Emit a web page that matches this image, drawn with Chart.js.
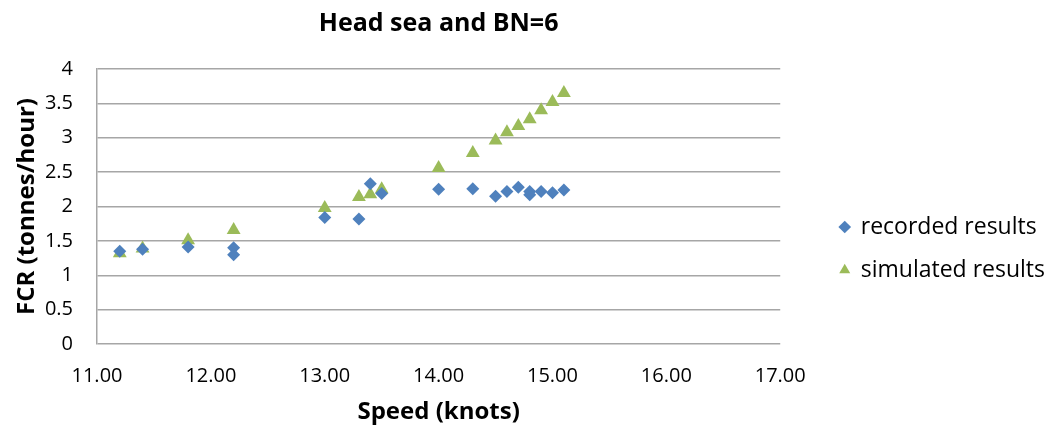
<!DOCTYPE html>
<html>
<head>
<meta charset="utf-8">
<script src="https://cdn.jsdelivr.net/npm/chart.js@4.4.1/dist/chart.umd.min.js"></script>
<style>
  html, body { margin: 0; padding: 0; background: #fff; }
  #wrap { width: 1063px; height: 432px; }
</style>
</head>
<body>
<div id="wrap"><canvas id="c" width="1063" height="432"></canvas></div>
<script>
const chartTitle = 'Head sea and BN=6';
const xTitle = 'Speed (knots)';
const yTitle = 'FCR (tonnes/hour)';
const seriesNames = ['recorded results', 'simulated results'];

const recordedSpeed = [11.2, 11.4, 11.8, 12.2, 12.2, 13.0, 13.3, 13.4, 13.5, 14.0, 14.3, 14.5, 14.6, 14.7, 14.8, 14.8, 14.9, 15.0, 15.1];
const recordedFCR   = [1.35, 1.38, 1.41, 1.40, 1.30, 1.84, 1.82, 2.33, 2.19, 2.25, 2.26, 2.15, 2.22, 2.28, 2.22, 2.17, 2.22, 2.20, 2.24];

const simulatedSpeed = [11.2, 11.4, 11.8, 12.2, 13.0, 13.3, 13.4, 13.5, 14.0, 14.3, 14.5, 14.6, 14.7, 14.8, 14.9, 15.0, 15.1];
const simulatedFCR   = [1.32, 1.39, 1.51, 1.66, 1.98, 2.14, 2.18, 2.25, 2.56, 2.78, 2.96, 3.08, 3.17, 3.27, 3.40, 3.52, 3.65];

const xMin = 11, xMax = 17, xStep = 1;
const yMin = 0, yMax = 4, yStep = 0.5;

function toPoints(xs, ys) { return xs.map((x, i) => ({ x: x, y: ys[i] })); }

const FONT = '"Open Sans", "DejaVu Sans", sans-serif';

new Chart(document.getElementById('c'), {
  type: 'scatter',
  data: {
    datasets: [
      {
        label: seriesNames[0],
        data: toPoints(recordedSpeed, recordedFCR),
        pointStyle: 'rectRot',
        pointRadius: 6.5,
        pointHoverRadius: 6.5,
        backgroundColor: '#4F81BD',
        borderColor: '#4F81BD',
        borderWidth: 0
      },
      {
        label: seriesNames[1],
        data: toPoints(simulatedSpeed, simulatedFCR),
        pointStyle: 'triangle',
        pointRadius: 8,
        pointHoverRadius: 8,
        backgroundColor: '#9BBB59',
        borderColor: '#9BBB59',
        borderWidth: 0
      }
    ]
  },
  options: {
    responsive: false,
    animation: false,
    devicePixelRatio: 1,
    layout: { padding: { left: 12, right: 8, top: 0, bottom: 0 } },
    plugins: {
      tooltip: { enabled: false },
      title: {
        display: true,
        text: chartTitle,
        fullSize: false,
        color: '#000',
        font: { family: FONT, size: 25, weight: 'bold', lineHeight: 1.2 },
        padding: { top: 9, bottom: 30 }
      },
      legend: {
        position: 'right',
        maxWidth: 400,
        title: { display: true, text: ' ', padding: { top: 53, bottom: 0 }, font: { size: 10, lineHeight: 1.2 } },
        labels: {
          usePointStyle: true,
          boxWidth: 9,
          boxHeight: 9,
          padding: 20,
          color: '#000',
          font: { family: FONT, size: 23 }
        }
      }
    },
    scales: {
      x: {
        type: 'linear',
        min: xMin, max: xMax,
        ticks: {
          stepSize: xStep,
          padding: 20,
          maxRotation: 0,
          color: '#000',
          font: { family: FONT, size: 20, lineHeight: 1.2 },
          callback: (v) => Number(v).toFixed(2)
        },
        grid: { display: false, drawTicks: false },
        border: { display: false },
        title: {
          display: true,
          text: xTitle,
          color: '#000',
          font: { family: FONT, size: 24, weight: 'bold', lineHeight: 1.2 },
          padding: { top: 10, bottom: 5.6 }
        },
        afterFit: (scale) => { scale.height = 88; }
      },
      y: {
        type: 'linear',
        min: yMin, max: yMax,
        ticks: {
          stepSize: yStep,
          padding: 24,
          color: '#000',
          font: { family: FONT, size: 20 },
          callback: (v) => String(Number(v))
        },
        grid: { color: '#a6a6a6', lineWidth: 1.5, drawTicks: false },
        border: { display: true, color: '#a6a6a6', width: 1.5 },
        title: {
          display: true,
          text: yTitle,
          color: '#000',
          font: { family: FONT, size: 24, weight: 'bold', lineHeight: 1.2 },
          padding: { top: 1, bottom: 3 }
        },
        afterFit: (scale) => { scale.width = 85; }
      },
      spacer: {
        type: 'linear',
        position: 'right',
        display: true,
        grid: { display: false, drawTicks: false },
        border: { display: false },
        ticks: { display: false },
        afterFit: (scale) => { scale.width = 40; }
      }
    }
  }
});
</script>
</body>
</html>
